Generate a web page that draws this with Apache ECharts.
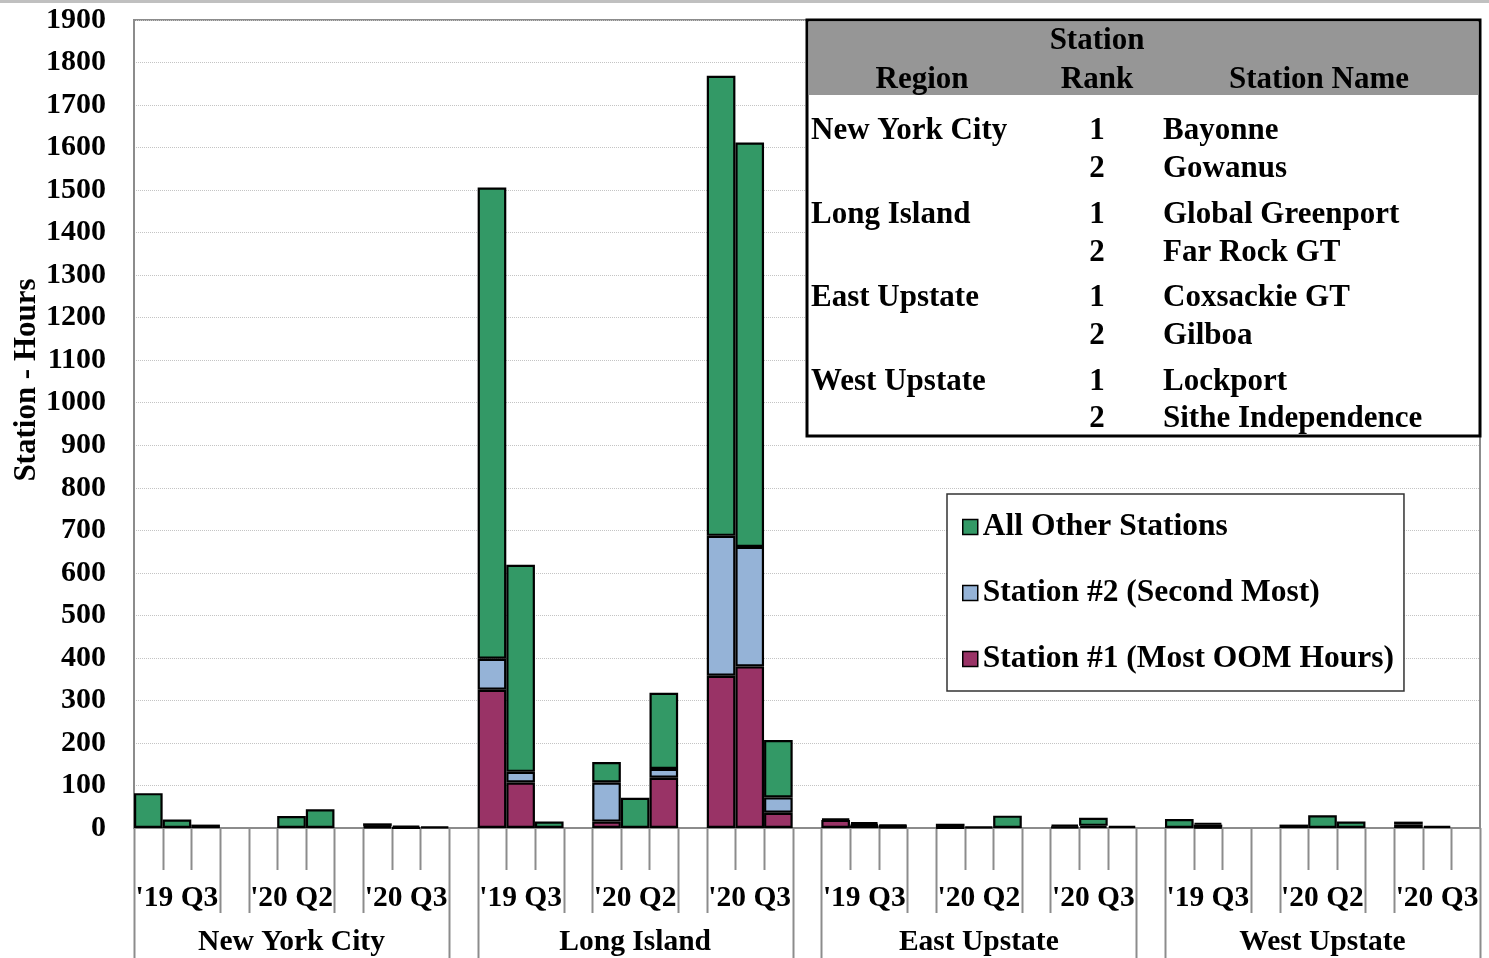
<!DOCTYPE html>
<html>
<head>
<meta charset="utf-8">
<script src="https://cdn.jsdelivr.net/npm/echarts@6/dist/echarts.min.js"></script>
<style>
html,body{margin:0;padding:0;background:#fff;}
#chart{width:1489px;height:958px;}
</style>
</head>
<body>
<div id="chart"></div>
<script>
// ---------------- DATA ----------------
const regions = ['New York City', 'Long Island', 'East Upstate', 'West Upstate'];
const quarters = ["'19 Q3", "'20 Q2", "'20 Q3"];
const months = ['Jul-19', 'Aug-19', 'Sep-19', 'Apr-20', 'May-20', 'Jun-20', 'Jul-20', 'Aug-20', 'Sep-20'];
const yTicks = { min: 0, max: 1900, interval: 100 };

// 9 months per region, in region order (NYC, LI, East Upstate, West Upstate)
const station1 = [
  0, 0, 0,    0, 0, 0,    3, 0, 0,        // New York City
  325, 107, 0, 15, 0, 118, 358, 380, 36,  // Long Island
  19, 6, 3,   1, 0, 0,    3, 5, 0,        // East Upstate
  0, 2, 0,    0, 0, 0,    8, 0, 0         // West Upstate
];
const station2 = [
  0, 0, 0,    0, 0, 0,    2, 1, 0,
  73, 25, 0,  92, 0, 21,  329, 281, 36,
  0, 3, 2,    0, 0, 0,    0, 0, 0,
  0, 6, 0,    0, 0, 0,    0, 0, 0
];
const allOther = [
  82, 20, 8,  0, 28, 44,  6, 5, 3,
  1108, 487, 15, 48, 71, 179, 1082, 951, 135,
  3, 5, 3,    9, 3, 29,   5, 19, 5,
  21, 4, 0,   8, 30, 15,  7, 5, 0
];

// Table (annotation) contents
const tableRegions = ['New York City', 'Long Island', 'East Upstate', 'West Upstate'];
const tableStations = [['Bayonne', 'Gowanus'], ['Global Greenport', 'Far Rock GT'], ['Coxsackie GT', 'Gilboa'], ['Lockport', 'Sithe Independence']];

const seriesNames = ['Station #1 (Most OOM Hours)', 'Station #2 (Second Most)', 'All Other Stations'];
const colors = ['#993366', '#95B3D7', '#339966'];

// ---------------- BUILD SLOTS ----------------
const categories = [];
const s1 = [], s2 = [], so = [];
const groupSlots = [];   // [regionIdx, quarterIdx, firstSlot]
const regionSlots = [];  // [firstSlot, lastSlot]
let gapN = 0;
const fmt = v => (v === 0 ? '-' : v);
for (let r = 0; r < regions.length; r++) {
  const rStart = categories.length;
  for (let g = 0; g < quarters.length; g++) {
    groupSlots.push([r, g, categories.length]);
    for (let m = 0; m < 3; m++) {
      const i = r * 9 + g * 3 + m;
      categories.push(regions[r] + ' ' + months[g * 3 + m]);
      s1.push(fmt(station1[i])); s2.push(fmt(station2[i])); so.push(fmt(allOther[i]));
    }
    if (g < quarters.length - 1) {
      categories.push('gap' + (gapN++)); s1.push('-'); s2.push('-'); so.push('-');
    }
  }
  regionSlots.push([rStart, categories.length - 1]);
  if (r < regions.length - 1) {
    categories.push('gap' + (gapN++)); s1.push('-'); s2.push('-'); so.push('-');
  }
}

const FONT = '"Liberation Serif", "Times New Roman", serif';
const chart = echarts.init(document.getElementById('chart'), null, { renderer: 'canvas' });

const mkSeries = (name, data, color) => ({
  name, type: 'bar', stack: 'total', data,
  barCategoryGap: '0%', barGap: '0%',
  itemStyle: { color, borderColor: '#000', borderWidth: 2.2 },
  emphasis: { disabled: true }
});

chart.setOption({
  animation: false,
  backgroundColor: '#fff',
  grid: { left: 134, right: 9, top: 20, bottom: 130, show: true, borderColor: '#8c8c8c', borderWidth: 2, backgroundColor: 'transparent' },
  legend: {
    data: [seriesNames[2], seriesNames[1], seriesNames[0]],
    orient: 'vertical', left: 947, top: 494,
    padding: [17, 10, 16, 15],
    itemWidth: 15, itemHeight: 15, itemGap: 34, itemTextGap: 8,
    icon: 'rect',
    itemStyle: { borderColor: '#000', borderWidth: 1.5 },
    backgroundColor: '#fff', borderColor: '#333', borderWidth: 1.5,
    textStyle: { fontFamily: FONT, fontWeight: 'bold', fontSize: 31.5, color: '#000', lineHeight: 31 },
    selectedMode: false
  },
  xAxis: {
    type: 'category', data: categories, boundaryGap: true,
    axisLine: { lineStyle: { color: '#8c8c8c', width: 2 } },
    axisTick: { show: false }, axisLabel: { show: false }, splitLine: { show: false }
  },
  yAxis: {
    type: 'value', min: yTicks.min, max: yTicks.max, interval: yTicks.interval,
    axisLine: { show: true, lineStyle: { color: '#8c8c8c', width: 2 } },
    axisTick: { show: false },
    axisLabel: { fontFamily: FONT, fontWeight: 'bold', fontSize: 30, color: '#000', margin: 28, formatter: v => String(v) },
    splitLine: { show: true, lineStyle: { color: '#c4c4c4', type: 'dotted', width: 1 } }
  },
  series: [
    mkSeries(seriesNames[0], s1, colors[0]),
    mkSeries(seriesNames[1], s2, colors[1]),
    mkSeries(seriesNames[2], so, colors[2])
  ]
});

// ---------------- AXIS DECORATIONS (from the library's scale) ----------------
const n = categories.length;
const cx = i => chart.convertToPixel({ xAxisIndex: 0 }, i);
const band = cx(1) - cx(0);
const baseY = chart.convertToPixel({ yAxisIndex: 0 }, 0);
const boundary = b => (b < n ? cx(b) - band / 2 : cx(n - 1) + band / 2);

const regionEdges = new Set();
regionSlots.forEach(([a, b]) => { regionEdges.add(a); regionEdges.add(b + 1); });
const groupEdges = new Set();
groupSlots.forEach(([r, g, a]) => { groupEdges.add(a); groupEdges.add(a + 3); });

const graphics = [];
graphics.push({ type: 'rect', shape: { x: 0, y: 0, width: 1489, height: 3 }, style: { fill: '#c0c0c0' }, silent: true });

for (let b = 0; b <= n; b++) {
  const isRegion = regionEdges.has(b), isGroup = groupEdges.has(b);
  const leftReal = b - 1 >= 0 && !String(categories[b - 1]).startsWith('gap');
  const rightReal = b < n && !String(categories[b]).startsWith('gap');
  if (!leftReal && !rightReal) continue;
  const y2 = isRegion ? 958 : (isGroup ? 913 : 870);
  const x = Math.round(boundary(b)) + 0.5;
  graphics.push({ type: 'line', shape: { x1: x, y1: baseY, x2: x, y2 }, style: { stroke: '#8c8c8c', lineWidth: 2 }, silent: true });
}
groupSlots.forEach(([r, g, a]) => {
  graphics.push({ type: 'text', x: cx(a + 1), y: 898, style: { text: quarters[g], fontFamily: FONT, fontWeight: 'bold', fontSize: 29.5, fill: '#000', align: 'center', verticalAlign: 'middle' }, silent: true });
});
regionSlots.forEach(([a, b], r) => {
  graphics.push({ type: 'text', x: (boundary(a) + boundary(b + 1)) / 2, y: 942, style: { text: regions[r], fontFamily: FONT, fontWeight: 'bold', fontSize: 29.5, fill: '#000', align: 'center', verticalAlign: 'middle' }, silent: true });
});

// Y-axis title
graphics.push({ type: 'text', x: 27, y: 380, rotation: Math.PI / 2, style: { text: 'Station - Hours', fontFamily: FONT, fontWeight: 'bold', fontSize: 31, fill: '#000', align: 'center', verticalAlign: 'middle' }, silent: true });

// ---------------- STATION TABLE ----------------
const tStyle = (text, align) => ({ text, fontFamily: FONT, fontWeight: 'bold', fontSize: 31, fill: '#000', align, verticalAlign: 'middle' });
graphics.push({ type: 'rect', shape: { x: 807, y: 20, width: 673, height: 416 }, style: { fill: '#fff', stroke: '#000', lineWidth: 3 }, silent: true, z: 10 });
graphics.push({ type: 'rect', shape: { x: 808.5, y: 21.5, width: 670, height: 73.5 }, style: { fill: '#969696' }, silent: true, z: 11 });
graphics.push({ type: 'text', x: 1097, y: 41, style: tStyle('Station', 'center'), silent: true, z: 12 });
graphics.push({ type: 'text', x: 922, y: 80, style: tStyle('Region', 'center'), silent: true, z: 12 });
graphics.push({ type: 'text', x: 1097, y: 80, style: tStyle('Rank', 'center'), silent: true, z: 12 });
graphics.push({ type: 'text', x: 1319, y: 80, style: tStyle('Station Name', 'center'), silent: true, z: 12 });
const rowY = [[131, 169], [215, 253], [298, 336], [382, 419]];
tableRegions.forEach((reg, i) => {
  graphics.push({ type: 'text', x: 811, y: rowY[i][0], style: tStyle(reg, 'left'), silent: true, z: 12 });
  tableStations[i].forEach((st, k) => {
    graphics.push({ type: 'text', x: 1097, y: rowY[i][k], style: tStyle(String(k + 1), 'center'), silent: true, z: 12 });
    graphics.push({ type: 'text', x: 1163, y: rowY[i][k], style: tStyle(st, 'left'), silent: true, z: 12 });
  });
});

chart.setOption({ graphic: graphics });
</script>
</body>
</html>
